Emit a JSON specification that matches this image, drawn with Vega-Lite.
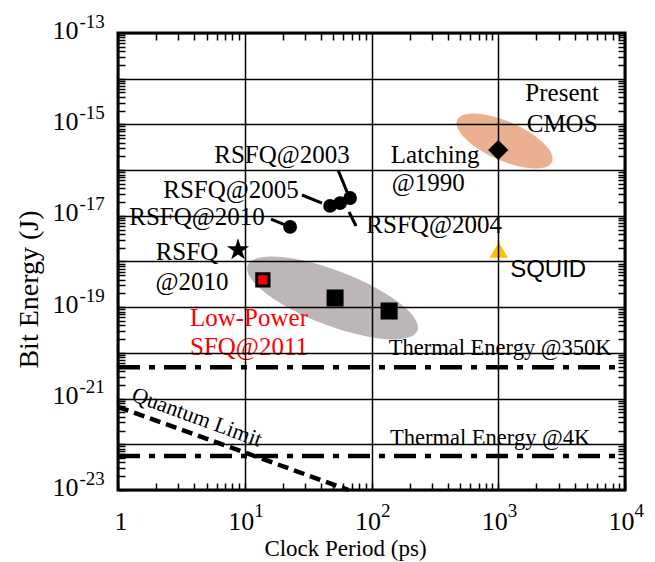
{
  "$schema": "https://vega.github.io/schema/vega-lite/v6.json",
  "width": 507,
  "height": 457,
  "autosize": {"type": "none"},
  "padding": {"left": 118, "top": 33, "right": 30, "bottom": 72},
  "background": "white",
  "config": {"view": {"stroke": "black", "strokeWidth": 3}, "font": "Liberation Serif"},
  "resolve": {"axis": {"x": "independent", "y": "independent"}},
  "layer": [
    {
      "data": {"values": [{"name": "SFQ", "x": 49.3, "y": 1.59e-19}]},
      "mark": {"type": "point", "filled": true, "fill": "#bdb6b6", "stroke": null, "opacity": 1, "size": 33124, "angle": 21,
        "shape": "M1,0C1,0.166 0.552,0.3 0,0.3C-0.552,0.3 -1,0.166 -1,0C-1,-0.166 -0.552,-0.3 0,-0.3C0.552,-0.3 1,-0.166 1,0Z"},
      "encoding": {
        "x": {"field": "x", "type": "quantitative", "scale": {"type": "log", "domain": [1, 10000], "nice": false},
          "axis": {"orient": "bottom", "zindex": 1,
            "values": [1,2,3,4,5,6,7,8,9,10,20,30,40,50,60,70,80,90,100,200,300,400,500,600,700,800,900,1000,2000,3000,4000,5000,6000,7000,8000,9000,10000],
            "labelExpr": "abs(log(datum.value)/LN10)<0.01?'1':(abs(log(datum.value)/LN10-round(log(datum.value)/LN10))<0.001?'10':'')",
            "grid": true, "gridColor": "black", "gridWidth": 1.5,
            "gridOpacity": {"condition": {"test": "abs(log(datum.value)/LN10-round(log(datum.value)/LN10))<0.001", "value": 1}, "value": 0},
            "tickSize": -7, "tickColor": "black", "tickWidth": 1.5, "domain": false,
            "labelFont": "Liberation Serif", "labelFontSize": 26, "labelColor": "black", "labelPadding": 46, "labelAlign": "right", "labelBaseline": "alphabetic", "labelOffset": 9, "labelFlush": false, "labelOverlap": false,
            "title": "Clock Period (ps)", "titleFont": "Liberation Serif", "titleFontSize": 23, "titleFontWeight": "normal", "titleColor": "black",
            "titleX": 227, "titleY": 65, "titleAlign": "center", "titleBaseline": "alphabetic"}},
        "y": {"field": "y", "type": "quantitative", "scale": {"type": "log", "domain": [1e-23, 1e-13], "nice": false},
          "axis": {"orient": "left", "zindex": 1,
            "values": [1e-23,2e-23,3e-23,4e-23,5e-23,6e-23,7e-23,8e-23,9e-23,1e-22,2e-22,3e-22,4e-22,5e-22,6e-22,7e-22,8e-22,9e-22,1e-21,2e-21,3e-21,4e-21,5e-21,6e-21,7e-21,8e-21,9e-21,1e-20,2e-20,3e-20,4e-20,5e-20,6e-20,7e-20,8e-20,9e-20,1e-19,2e-19,3e-19,4e-19,5e-19,6e-19,7e-19,8e-19,9e-19,1e-18,2e-18,3e-18,4e-18,5e-18,6e-18,7e-18,8e-18,9e-18,1e-17,2e-17,3e-17,4e-17,5e-17,6e-17,7e-17,8e-17,9e-17,1e-16,2e-16,3e-16,4e-16,5e-16,6e-16,7e-16,8e-16,9e-16,1e-15,2e-15,3e-15,4e-15,5e-15,6e-15,7e-15,8e-15,9e-15,1e-14,2e-14,3e-14,4e-14,5e-14,6e-14,7e-14,8e-14,9e-14,1e-13],
            "labelExpr": "(abs(log(datum.value)/LN10-round(log(datum.value)/LN10))<0.001 && abs(round(log(datum.value)/LN10))%2==1)?'10':''",
            "grid": true, "gridColor": "black", "gridWidth": 1.5,
            "gridOpacity": {"condition": {"test": "abs(log(datum.value)/LN10-round(log(datum.value)/LN10))<0.001", "value": 1}, "value": 0},
            "tickSize": -7, "tickColor": "black", "tickWidth": 1.5, "domain": false,
            "labelFont": "Liberation Serif", "labelFontSize": 26, "labelColor": "black", "labelPadding": 47, "labelAlign": "right", "labelBaseline": "alphabetic", "labelOffset": 5, "labelFlush": false, "labelOverlap": false,
            "title": "Bit Energy (J)", "titleFont": "Liberation Serif", "titleFontSize": 28, "titleFontWeight": "normal", "titleColor": "black",
            "titleX": -81, "titleY": 256, "titleAngle": -90, "titleAlign": "center", "titleBaseline": "alphabetic"}}
      }
    },
    {
      "data": {"values": [{"name": "CMOS", "x": 1122, "y": 4.33e-16}]},
      "mark": {"type": "point", "filled": true, "fill": "#ebb08f", "stroke": null, "opacity": 1, "size": 10775, "angle": 24,
        "shape": "M1,0C1,0.207 0.552,0.375 0,0.375C-0.552,0.375 -1,0.207 -1,0C-1,-0.207 -0.552,-0.375 0,-0.375C0.552,-0.375 1,-0.207 1,0Z"},
      "encoding": {
        "x": {"field": "x", "type": "quantitative", "scale": {"type": "log", "domain": [1, 10000], "nice": false},
          "axis": {"orient": "top", "zindex": 1,
            "values": [2,3,4,5,6,7,8,9,20,30,40,50,60,70,80,90,200,300,400,500,600,700,800,900,2000,3000,4000,5000,6000,7000,8000,9000],
            "labels": false, "grid": false, "tickSize": -7, "tickColor": "black", "tickWidth": 1.5, "domain": false, "title": null}},
        "y": {"field": "y", "type": "quantitative", "scale": {"type": "log", "domain": [1e-23, 1e-13], "nice": false},
          "axis": {"orient": "right", "zindex": 1,
            "values": [2e-23,3e-23,4e-23,5e-23,6e-23,7e-23,8e-23,9e-23,2e-22,3e-22,4e-22,5e-22,6e-22,7e-22,8e-22,9e-22,2e-21,3e-21,4e-21,5e-21,6e-21,7e-21,8e-21,9e-21,2e-20,3e-20,4e-20,5e-20,6e-20,7e-20,8e-20,9e-20,2e-19,3e-19,4e-19,5e-19,6e-19,7e-19,8e-19,9e-19,2e-18,3e-18,4e-18,5e-18,6e-18,7e-18,8e-18,9e-18,2e-17,3e-17,4e-17,5e-17,6e-17,7e-17,8e-17,9e-17,2e-16,3e-16,4e-16,5e-16,6e-16,7e-16,8e-16,9e-16,2e-15,3e-15,4e-15,5e-15,6e-15,7e-15,8e-15,9e-15,2e-14,3e-14,4e-14,5e-14,6e-14,7e-14,8e-14,9e-14],
            "labels": false, "grid": false, "tickSize": -7, "tickColor": "black", "tickWidth": 1.5, "domain": false, "title": null}}
      }
    },
    {
      "data": {"values": [
        {"series": "Thermal Energy @350K", "x": 1, "y": 4.83e-21},
        {"series": "Thermal Energy @350K", "x": 10000, "y": 4.83e-21},
        {"series": "Thermal Energy @4K", "x": 1, "y": 5.52e-23},
        {"series": "Thermal Energy @4K", "x": 10000, "y": 5.52e-23}
      ]},
      "mark": {"type": "line", "color": "black", "strokeWidth": 4.5, "strokeDash": [22, 9, 6, 9]},
      "encoding": {
        "x": {"field": "x", "type": "quantitative", "scale": {"type": "log", "domain": [1, 10000], "nice": false},
          "axis": {"orient": "bottom", "zindex": 1, "values": [10, 100, 1000, 10000],
            "labelExpr": "'' + round(log(datum.value)/LN10)",
            "grid": false, "tickSize": -7, "tickOpacity": 0, "domain": false, "title": null,
            "labelFont": "Liberation Serif", "labelFontSize": 19, "labelColor": "black", "labelPadding": 33, "labelAlign": "left", "labelBaseline": "alphabetic", "labelOffset": 9, "labelFlush": false, "labelOverlap": false}},
        "y": {"field": "y", "type": "quantitative", "scale": {"type": "log", "domain": [1e-23, 1e-13], "nice": false},
          "axis": {"orient": "left", "zindex": 1, "values": [1e-23, 1e-21, 1e-19, 1e-17, 1e-15, 1e-13],
            "labelExpr": "'' + round(log(datum.value)/LN10)",
            "grid": false, "tickSize": -7, "tickOpacity": 0, "domain": false, "title": null,
            "labelFont": "Liberation Serif", "labelFontSize": 19, "labelColor": "black", "labelPadding": 46, "labelAlign": "left", "labelBaseline": "alphabetic", "labelOffset": -6, "labelFlush": false, "labelOverlap": false}},
        "detail": {"field": "series", "type": "nominal"}
      }
    },
    {
      "data": {"values": [
        {"series": "Quantum Limit", "x": 1, "y": 6.6e-22},
        {"series": "Quantum Limit", "x": 66, "y": 1e-23}
      ]},
      "mark": {"type": "line", "color": "black", "strokeWidth": 4.5, "strokeDash": [11, 6]},
      "encoding": {
        "x": {"field": "x", "type": "quantitative", "scale": {"type": "log", "domain": [1, 10000], "nice": false}, "axis": null},
        "y": {"field": "y", "type": "quantitative", "scale": {"type": "log", "domain": [1e-23, 1e-13], "nice": false}, "axis": null}
      }
    },
    {
      "data": {"values": [
        {"label": "RSFQ@2003", "x": 54.5, "y": 1e-16, "x2": 64.2, "y2": 3.3e-17},
        {"label": "RSFQ@2005", "x": 28.3, "y": 2.85e-17, "x2": 40.7, "y2": 1.9e-17},
        {"label": "RSFQ@2010", "x": 16.1, "y": 8.5e-18, "x2": 20.8, "y2": 6.3e-18},
        {"label": "RSFQ@2004", "x": 66.5, "y": 1.21e-17, "x2": 75.5, "y2": 5.98e-18}
      ]},
      "mark": {"type": "rule", "color": "black", "strokeWidth": 3},
      "encoding": {
        "x": {"field": "x", "type": "quantitative", "scale": {"type": "log", "domain": [1, 10000], "nice": false}, "axis": null},
        "y": {"field": "y", "type": "quantitative", "scale": {"type": "log", "domain": [1e-23, 1e-13], "nice": false}, "axis": null},
        "x2": {"field": "x2"},
        "y2": {"field": "y2"}
      }
    },
    {
      "data": {"values": [
        {"label": "RSFQ@2005", "x": 47.1, "y": 1.64e-17},
        {"label": "RSFQ@2003", "x": 56.5, "y": 1.9e-17},
        {"label": "RSFQ@2004", "x": 67.8, "y": 2.45e-17},
        {"label": "RSFQ@2010", "x": 22.8, "y": 5.7e-18}
      ]},
      "mark": {"type": "point", "shape": "circle", "filled": true, "color": "black", "opacity": 1, "size": 190},
      "encoding": {
        "x": {"field": "x", "type": "quantitative", "scale": {"type": "log", "domain": [1, 10000], "nice": false}, "axis": null},
        "y": {"field": "y", "type": "quantitative", "scale": {"type": "log", "domain": [1e-23, 1e-13], "nice": false}, "axis": null}
      }
    },
    {
      "data": {"values": [{"label": "Latching @1990", "x": 1000, "y": 2.75e-16}]},
      "mark": {"type": "point", "shape": "diamond", "filled": true, "color": "black", "opacity": 1, "size": 300, "stroke": "black", "strokeWidth": 2},
      "encoding": {
        "x": {"field": "x", "type": "quantitative", "scale": {"type": "log", "domain": [1, 10000], "nice": false}, "axis": null},
        "y": {"field": "y", "type": "quantitative", "scale": {"type": "log", "domain": [1e-23, 1e-13], "nice": false}, "axis": null}
      }
    },
    {
      "data": {"values": [{"label": "SQUID", "x": 1010, "y": 1.79e-18}]},
      "mark": {"type": "point", "shape": "triangle-up", "filled": true, "color": "#ffc000", "opacity": 1, "size": 330},
      "encoding": {
        "x": {"field": "x", "type": "quantitative", "scale": {"type": "log", "domain": [1, 10000], "nice": false}, "axis": null},
        "y": {"field": "y", "type": "quantitative", "scale": {"type": "log", "domain": [1e-23, 1e-13], "nice": false}, "axis": null}
      }
    },
    {
      "data": {"values": [{"label": "RSFQ @2010", "x": 8.85, "y": 1.79e-18}]},
      "mark": {"type": "point", "filled": true, "color": "black", "opacity": 1, "size": 540,
        "shape": "M0,-1L0.225,-0.309L0.951,-0.309L0.363,0.118L0.588,0.809L0,0.382L-0.588,0.809L-0.363,0.118L-0.951,-0.309L-0.225,-0.309Z"},
      "encoding": {
        "x": {"field": "x", "type": "quantitative", "scale": {"type": "log", "domain": [1, 10000], "nice": false}, "axis": null},
        "y": {"field": "y", "type": "quantitative", "scale": {"type": "log", "domain": [1e-23, 1e-13], "nice": false}, "axis": null}
      }
    },
    {
      "data": {"values": [{"label": "Low-Power SFQ@2011", "x": 13.9, "y": 3.94e-19}]},
      "mark": {"type": "point", "shape": "square", "filled": true, "fill": "#ff0000", "stroke": "black", "strokeWidth": 3, "opacity": 1, "size": 150},
      "encoding": {
        "x": {"field": "x", "type": "quantitative", "scale": {"type": "log", "domain": [1, 10000], "nice": false}, "axis": null},
        "y": {"field": "y", "type": "quantitative", "scale": {"type": "log", "domain": [1e-23, 1e-13], "nice": false}, "axis": null}
      }
    },
    {
      "data": {"values": [
        {"label": "SFQ A", "x": 51.6, "y": 1.59e-19},
        {"label": "SFQ B", "x": 137.7, "y": 8.26e-20}
      ]},
      "mark": {"type": "point", "shape": "square", "filled": true, "color": "black", "opacity": 1, "size": 290},
      "encoding": {
        "x": {"field": "x", "type": "quantitative", "scale": {"type": "log", "domain": [1, 10000], "nice": false}, "axis": null},
        "y": {"field": "y", "type": "quantitative", "scale": {"type": "log", "domain": [1e-23, 1e-13], "nice": false}, "axis": null}
      }
    },
    {
      "data": {"values": [
        {"text": "Present", "x": 3192, "y": 4.86e-15},
        {"text": "CMOS", "x": 3192, "y": 1.02e-15},
        {"text": "Latching", "x": 318, "y": 2.14e-16},
        {"text": "@1990", "x": 280, "y": 5.22e-17},
        {"text": "RSFQ@2003", "x": 19.7, "y": 2.14e-16},
        {"text": "RSFQ@2005", "x": 7.8, "y": 3.67e-17},
        {"text": "RSFQ@2010", "x": 4.2, "y": 9.4e-18},
        {"text": "RSFQ@2004", "x": 312, "y": 6.3e-18},
        {"text": "RSFQ", "x": 3.5, "y": 1.61e-18},
        {"text": "@2010", "x": 3.84, "y": 3.56e-19}
      ]},
      "mark": {"type": "text", "font": "Liberation Serif", "fontSize": 25, "color": "black", "align": "center", "baseline": "middle"},
      "encoding": {
        "x": {"field": "x", "type": "quantitative", "scale": {"type": "log", "domain": [1, 10000], "nice": false}, "axis": null},
        "y": {"field": "y", "type": "quantitative", "scale": {"type": "log", "domain": [1e-23, 1e-13], "nice": false}, "axis": null},
        "text": {"field": "text"}
      }
    },
    {
      "data": {"values": [
        {"text": "Low-Power", "x": 10.8, "y": 5.8e-20},
        {"text": "SFQ@2011", "x": 10.8, "y": 1.35e-20}
      ]},
      "mark": {"type": "text", "font": "Liberation Serif", "fontSize": 25, "color": "#ff0000", "align": "center", "baseline": "middle"},
      "encoding": {
        "x": {"field": "x", "type": "quantitative", "scale": {"type": "log", "domain": [1, 10000], "nice": false}, "axis": null},
        "y": {"field": "y", "type": "quantitative", "scale": {"type": "log", "domain": [1e-23, 1e-13], "nice": false}, "axis": null},
        "text": {"field": "text"}
      }
    },
    {
      "data": {"values": [{"text": "SQUID", "x": 2477, "y": 6.5e-19}]},
      "mark": {"type": "text", "font": "Liberation Sans", "fontSize": 24, "color": "black", "align": "center", "baseline": "middle"},
      "encoding": {
        "x": {"field": "x", "type": "quantitative", "scale": {"type": "log", "domain": [1, 10000], "nice": false}, "axis": null},
        "y": {"field": "y", "type": "quantitative", "scale": {"type": "log", "domain": [1e-23, 1e-13], "nice": false}, "axis": null},
        "text": {"field": "text"}
      }
    },
    {
      "data": {"values": [
        {"text": "Thermal Energy @350K", "x": 1035, "y": 1.28e-20},
        {"text": "Thermal Energy @4K", "x": 863, "y": 1.37e-22}
      ]},
      "mark": {"type": "text", "font": "Liberation Serif", "fontSize": 22.5, "color": "black", "align": "center", "baseline": "middle"},
      "encoding": {
        "x": {"field": "x", "type": "quantitative", "scale": {"type": "log", "domain": [1, 10000], "nice": false}, "axis": null},
        "y": {"field": "y", "type": "quantitative", "scale": {"type": "log", "domain": [1e-23, 1e-13], "nice": false}, "axis": null},
        "text": {"field": "text"}
      }
    },
    {
      "data": {"values": [{"text": "Quantum Limit", "x": 4.2, "y": 3.95e-22}]},
      "mark": {"type": "text", "font": "Liberation Serif", "fontSize": 22, "color": "black", "align": "center", "baseline": "middle", "angle": 20},
      "encoding": {
        "x": {"field": "x", "type": "quantitative", "scale": {"type": "log", "domain": [1, 10000], "nice": false}, "axis": null},
        "y": {"field": "y", "type": "quantitative", "scale": {"type": "log", "domain": [1e-23, 1e-13], "nice": false}, "axis": null},
        "text": {"field": "text"}
      }
    }
  ]
}
